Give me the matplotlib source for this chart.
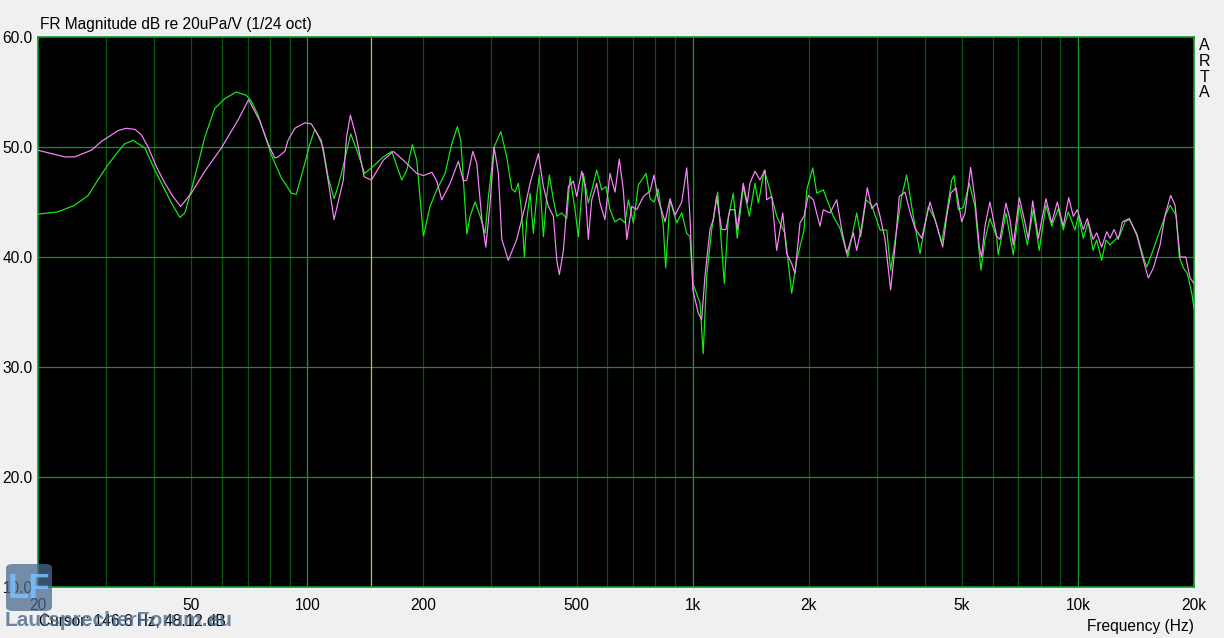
import matplotlib
matplotlib.use('Agg')
import matplotlib.pyplot as plt
from matplotlib.patches import FancyBboxPatch

plt.rcParams['font.family'] = ['Liberation Sans', 'DejaVu Sans']

# --- data (Hz, dB) ---
green_f = [20, 22.5, 24.9, 27.0, 28.6, 30.4, 32.3, 33.6, 35.3, 37.9, 40.2, 42.7, 44.4, 46.7, 48.1,
           50.0, 52.1, 54.2, 57.5, 61.1, 65.4, 69.4, 71.5, 74.5, 77.5, 80.6, 85.6, 90.9, 93.6,
           98.5, 101.4, 104.5, 106.4, 109.8, 113.2, 117.3, 120.1, 123.8, 129.6, 135.4, 140.9,
           146.6, 157.5,
           165.6, 175.8, 181.2, 187.3, 192.3, 200.1, 208.2, 216.7, 227.8, 237.1, 245.2, 250.2,
           254.1, 259.3, 264.5, 272.5, 280.8, 289.3, 295.1, 305.3, 317.8, 329.2, 339.2, 345.9,
           352.9, 360.1, 365.8, 371.1, 378.5, 386.0, 393.9, 400.1, 409.8, 418.1, 424.7, 435.0,
           444.0, 457.4, 471.2, 480.6, 495.1, 505.0, 520.4, 536.0, 550.4, 563.6, 580.7, 595.7,
           610.1, 628.7, 647.8, 667.6, 680.9, 701.7, 722.9, 757.1, 775.4, 793.7, 814, 839, 851,
           873.6, 909, 937, 965, 984, 1001, 1045, 1065, 1087, 1120, 1161, 1189, 1208, 1238, 1275,
           1305, 1353, 1403, 1451, 1481, 1534, 1587, 1652, 1736, 1807, 1862, 1945, 1977, 2049,
           2099, 2183, 2317, 2412, 2526, 2665, 2730, 2818, 2916, 3064, 3189, 3264, 3384, 3487,
           3592, 3737, 3890, 4089, 4255, 4429, 4563, 4701, 4766, 4891, 5038, 5223, 5403, 5599,
           5734, 5907, 6148, 6209, 6501, 6793, 7043, 7387, 7657, 7932, 8256, 8545, 8891, 9157,
           9437, 9822, 10020, 10320, 10630, 10940, 11180, 11520, 11820, 12110, 12480, 12850,
           13250, 13590, 14200, 14780, 15080, 15540, 16330, 16820, 17330, 17970, 18320, 18770,
           19220, 19740, 20000]
green_db = [43.9, 44.1, 44.7, 45.6, 47.0, 48.4, 49.6, 50.3, 50.6, 49.9, 47.9, 46.1, 44.9, 43.6, 44.0,
            46.1, 48.5, 50.9, 53.5, 54.4, 55.0, 54.7, 54.2, 52.9, 51.1, 49.3, 47.2, 45.8, 45.7,
            48.5, 50.2, 51.6, 51.1, 50.0, 47.3, 45.3, 46.4, 48.2, 51.2, 49.4, 47.6,
            48.1, 49.1,
            49.6, 47.0, 47.9, 50.2, 48.8, 41.9, 44.6, 46.1, 47.6, 50.3, 51.85, 50.6,
            47.0, 42.1, 43.7, 45.0, 43.7, 42.15, 45.5, 50.0, 51.4, 49.1, 46.2, 45.9,
            46.7, 44.0, 40.0, 43.4, 45.8, 42.15, 45.6, 47.45, 41.85, 45.5, 47.45, 45.2,
            43.7, 44.0, 43.5, 47.3, 44.3, 41.85, 47.6, 44.9, 46.4, 47.9, 46.1, 46.4,
            44.3, 43.2, 43.5, 43.1, 45.2, 43.1, 46.55, 47.6, 45.3, 45.0, 46.2, 42.8, 39.0,
            45.2, 43.1, 44.0, 42.15, 41.85, 37.6, 35.8, 31.2, 38.2, 42.45, 45.9, 40.9, 37.6, 43.7, 45.8,
            41.7, 46.4, 43.7, 46.7, 44.9, 47.9, 46.1, 43.7, 42.15, 36.7, 39.7, 42.45, 46.1, 48.1,
            45.8, 46.1, 43.7, 42.6, 40.0, 44.0, 41.85, 45.2, 44.7, 42.45, 42.45, 38.8, 42.45, 45.5,
            47.45, 43.7, 40.3, 44.6, 43.4, 41.3, 44.0, 47.0, 47.4, 44.3, 44.5, 46.7, 44.6, 38.8,
            41.55, 43.5, 41.85, 40.2, 44.0, 40.2, 44.7, 41.1, 44.3, 40.6, 44.7, 42.8, 44.4, 42.45,
            44.1, 42.45, 43.8, 41.7, 43.2, 40.6, 41.55, 39.7, 41.55, 41.1, 41.55, 42.0,
            43.2, 43.4, 42.15, 40.0, 39.1, 40.3, 42.45, 43.7, 44.7, 43.8, 40.0, 39.0,
            38.5, 36.7, 35.3]

violet_f = [20, 21.7, 23.5, 24.9, 27.5, 29.2, 30.4, 32.3, 33.9, 35.7, 37.1, 38.6, 40.6, 42.7, 44.8,
            46.9, 50.0, 54.2, 59.8, 66.1, 70.4, 75.2, 79.1, 82.3, 83.9, 87.4, 89.1, 92.8, 98.5,
            102.4, 108.7, 111.0, 113.2, 117.3, 124.0, 126.3, 129.3, 134.0, 140.4, 146.6, 157.5,
            167.2, 177.5, 192.3, 200.1, 210.4, 216.7, 223.3, 234.7, 246.6, 254.1, 259.3, 268.8,
            275.3, 283.7, 290.5, 298.1, 305.3, 313.2, 319.7, 332.3, 349.5, 367.3, 378.5, 397.7,
            409.8, 422.2, 435.0, 444.0, 450.9, 461.9, 475.8, 490.2, 500.2, 515.4, 525.6, 536.0,
            547.1, 563.6, 574.8, 592.1, 610.1, 628.7, 645.0, 660.7, 674.5, 695.0, 716.0, 744.9,
            775.4, 793.7, 814.3, 847.8, 873.6, 899.9, 936.8, 965.2, 984, 1001, 1034, 1055, 1076,
            1109, 1131, 1154, 1189, 1220, 1250, 1288, 1305, 1353, 1386, 1408, 1451, 1495, 1541,
            1556, 1604, 1652, 1713, 1754, 1807, 1843, 1899, 1945, 1996, 2056, 2140, 2183, 2272,
            2365, 2437, 2511, 2612, 2665, 2746, 2840, 2916, 3004, 3064, 3157, 3264, 3350, 3437,
            3556, 3664, 3776, 3930, 4129, 4298, 4455, 4563, 4674, 4823, 4990, 5090, 5265, 5403,
            5544, 5622, 5734, 5907, 6148, 6272, 6501, 6660, 6793, 7043, 7286, 7433, 7630, 7891,
            8256, 8545, 8838, 9157, 9459, 9722, 9960, 10320, 10570, 10940, 11180, 11520, 11870,
            12110, 12400, 12720, 13040, 13590, 14200, 14780, 15220, 15690, 16330, 16820, 17400,
            17860, 18400, 19040, 19530, 20000]
violet_db = [49.7, 49.4, 49.1, 49.1, 49.7, 50.5, 50.9, 51.5, 51.7, 51.6, 51.1, 50.0, 48.2, 46.7, 45.5,
             44.6, 45.8, 47.8, 49.9, 52.45, 54.3, 52.4, 50.3, 49.0, 49.1, 49.6, 50.6, 51.7, 52.2,
             52.1, 50.6, 48.8, 47.0, 43.4, 47.0, 50.8, 52.9, 50.9, 47.3, 47.0, 48.8,
             49.6, 48.8, 47.6, 47.4, 47.7, 46.9, 45.2, 46.7, 48.7, 46.9, 47.0, 49.6,
             48.5, 43.4, 40.9, 44.9, 50.0, 47.6, 41.6, 39.7, 41.6, 44.6, 46.7, 49.4,
             46.4, 44.6, 43.7, 39.7, 38.4, 40.6, 46.4, 46.9, 45.5, 47.8, 46.4, 41.6,
             45.2, 46.7, 44.9, 43.4, 47.6, 45.9, 48.9, 46.1, 41.6, 44.6, 44.3, 45.5,
             46.0, 47.45, 45.2, 43.2, 45.3, 43.8, 45.0, 48.1, 43.7, 37.0, 34.9, 34.3, 38.2,
             42.5, 43.4, 45.5, 42.5, 42.5, 44.3, 44.3, 42.5, 46.7, 44.9, 46.7, 47.8, 47.0, 47.9,
             45.2, 45.5, 40.6, 44.0, 40.3, 39.4, 38.5, 43.1, 43.7, 45.6, 45.2, 42.8, 44.3, 44.0,
             45.2, 42.5, 40.3, 42.2, 40.6, 42.8, 46.3, 44.4, 44.9, 43.7, 41.6, 37.0, 40.9, 45.5,
             45.9, 44.1, 42.6, 41.7, 45.0, 42.9, 40.9, 43.7, 45.8, 46.3, 43.2, 44.0, 48.15, 45.2,
             40.9, 40.0, 42.8, 45.0, 41.9, 41.6, 44.9, 43.4, 41.1, 45.4, 43.1, 41.6, 45.1, 41.7,
             45.3, 43.1, 45.0, 42.8, 45.4, 43.7, 44.3, 42.5, 43.5, 41.6, 42.2, 40.9, 42.3,
             41.7, 42.5, 41.6, 43.2, 43.5, 42.0, 39.7, 38.1, 39.0, 41.1, 43.8, 45.6,
             44.7, 40.0, 40.0, 38.1, 37.6]

xtick_vals = [20, 50, 100, 200, 500, 1000, 2000, 5000, 10000, 20000]
xtick_text = ['20', '50', '100', '200', '500', '1k', '2k', '5k', '10k', '20k']
ytick_vals = [10, 20, 30, 40, 50, 60]
cursor_hz = 146.6
cursor_db = 48.12

fig = plt.figure(figsize=(12.24, 6.38), dpi=100, facecolor='#f0f0f0')
ax = fig.add_axes([38 / 1224, 51 / 638, 1156 / 1224, 550 / 638])
ax.set_facecolor('black')
ax.set_xscale('log')
ax.set_xlim(20, 20000)
ax.set_ylim(10, 60)

# grid like ARTA: dim green minor lines, brighter decades
for dec in [10, 100, 1000, 10000]:
    for m in range(1, 10):
        f = dec * m
        if 20 < f < 20000:
            col = '#1a9a2a' if m == 1 else '#0b520f'
            ax.axvline(f, color=col, lw=0.9, zorder=1)
for y in [20, 30, 40, 50]:
    ax.axhline(y, color='#1f8a2a', lw=0.9, zorder=1)
ax.axvline(cursor_hz, color='#c8c800', lw=0.9, zorder=2)

ax.plot(green_f, green_db, color='#14f014', lw=0.85, zorder=3)
ax.plot(violet_f, violet_db, color='#ff85ff', lw=0.85, zorder=4)

for s in ax.spines.values():
    s.set_color('#0c9a2c')
    s.set_linewidth(1.2)

ax.set_xticks(xtick_vals)
ax.set_xticklabels(xtick_text)
ax.xaxis.set_minor_locator(matplotlib.ticker.NullLocator())
ax.set_yticks(ytick_vals)
ax.set_yticklabels([f'{v:.1f}' for v in ytick_vals])
ax.tick_params(length=0, labelsize=11.2, colors='black')
ax.tick_params(axis='x', pad=8)
ax.tick_params(axis='y', pad=4)

fig.text(40 / 1224, 1 - 25 / 638, 'FR Magnitude dB re 20uPa/V (1/24 oct)', fontsize=11.2,
         va='center', ha='left')
fig.text(1194 / 1224, 1 - 626 / 638, 'Frequency (Hz)', fontsize=11.2, va='center', ha='right')
fig.text(39 / 1224, 1 - 622 / 638, f'Cursor: {cursor_hz} Hz, {cursor_db} dB', fontsize=11.2,
         va='center', ha='left')
for i, ch in enumerate('ARTA'):
    fig.text(1204 / 1224, 1 - (46 + i * 15.5) / 638, ch, fontsize=11.5, va='center', ha='center')

# forum watermark
logo = FancyBboxPatch((6 / 1224, 1 - 611 / 638), 46 / 1224, 47 / 638,
                      boxstyle='round,pad=0,rounding_size=0.006', transform=fig.transFigure,
                      facecolor='#4a6b8f', alpha=0.75, edgecolor='none', zorder=5)
fig.patches.append(logo)
fig.text(29 / 1224, 1 - 588 / 638, 'LF', fontsize=25, fontweight='bold', color='#7cc0ff',
         va='center', ha='center', alpha=0.85, zorder=6)
fig.text(5 / 1224, 1 - 621 / 638, 'LautsprecherForum.eu', fontsize=15, fontweight='bold',
         color='#4a6b8f', alpha=0.8, va='center', ha='left', zorder=6)

fig.savefig('out.png', dpi=100, facecolor=fig.get_facecolor())
